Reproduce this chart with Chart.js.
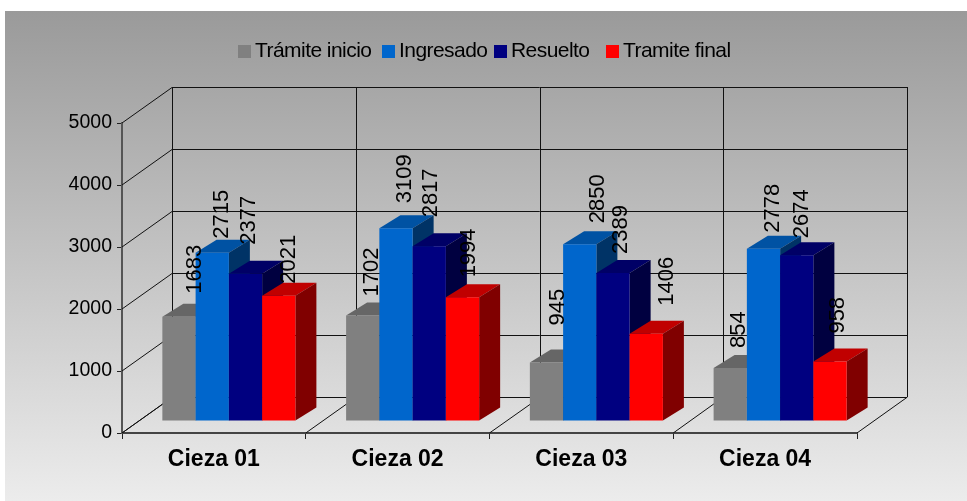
<!DOCTYPE html>
<html>
<head>
<meta charset="utf-8">
<style>
  html, body { margin: 0; padding: 0; background: #fff; }
  canvas { display: block; }
</style>
<script src="https://cdn.jsdelivr.net/npm/chart.js@4/dist/chart.umd.min.js"></script>
</head>
<body>
<div style="width:967px;height:501px"><canvas id="chart"></canvas></div>
<script>
const categories = ['Cieza 01', 'Cieza 02', 'Cieza 03', 'Cieza 04'];
const tramiteInicio = [1683, 1702, 945, 854];
const ingresado = [2715, 3109, 2850, 2778];
const resuelto = [2377, 2817, 2389, 2674];
const tramiteFinal = [2021, 1994, 1406, 958];
const yTicks = [0, 1000, 2000, 3000, 4000, 5000];

// offset of the back wall and of the bars from the front plane
const WALL_DX = 50, WALL_DY = -36;
const BAR_DX = 15, BAR_DY = -12;
const SIDE_DX = 21, SIDE_DY = -13;
// nudge of the value labels, series by category, Excel places them unevenly
const LABEL_DX = [[16, 9, 11, 9], [10, 9, 18, 9], [3, 2, 8, 5], [10, 6, 21, 8]];
const LABEL_GAP = [[23, 19, 37, 20], [14, 25, 21, 16], [29, 29, 19, 17], [12, 20, 28, 28]];
const LEGEND_X = [238, 382, 494, 606];

function makeSeries(label, data, color, top, side) {
  return { label, data, backgroundColor: color, topColor: top, sideColor: side };
}

function poly(ctx, pts, fill) {
  ctx.beginPath();
  pts.forEach((p, i) => i ? ctx.lineTo(p[0], p[1]) : ctx.moveTo(p[0], p[1]));
  ctx.closePath();
  ctx.fillStyle = fill;
  ctx.fill();
}

function line(ctx, x1, y1, x2, y2) {
  ctx.beginPath();
  ctx.moveTo(x1, y1);
  ctx.lineTo(x2, y2);
  ctx.stroke();
}

// background, walls, floor and the 3D faces of the bars
const walls = {
  id: 'walls',
  beforeDraw(chart) {
    const ctx = chart.ctx;
    const g = ctx.createLinearGradient(0, 11, 0, 501);
    g.addColorStop(0, '#9a9a9a');
    g.addColorStop(1, '#ececec');
    ctx.fillStyle = g;
    ctx.fillRect(5, 11, 962, 490);
  },
  beforeDatasetsDraw(chart) {
    const ctx = chart.ctx, x = chart.scales.x, y = chart.scales.y;
    const left = x.left, right = x.right, y0 = y.getPixelForValue(0), yTop = y.getPixelForValue(5000);
    ctx.save();
    ctx.strokeStyle = '#111';
    ctx.lineWidth = 1;
    yTicks.forEach(v => {
      const py = y.getPixelForValue(v);
      const backY = Math.round(py + WALL_DY) + 0.5;
      line(ctx, left, py, left + WALL_DX, backY);
      line(ctx, left + WALL_DX, backY, right + WALL_DX, backY);
    });
    const step = (right - left) / categories.length;
    for (let i = 0; i <= categories.length; i++) {
      const px = left + step * i;
      const backX = Math.round(px + WALL_DX) + 0.5;
      line(ctx, px, y0, backX, y0 + WALL_DY);
      line(ctx, backX, y0 + WALL_DY, backX, yTop + WALL_DY);
    }
    ctx.restore();

    // left series first, so each bar covers the side of the one before it
    ctx.save();
    ctx.translate(BAR_DX, BAR_DY);
    chart.data.datasets.forEach((ds, s) => {
      const meta = chart.getDatasetMeta(s);
      meta.data.forEach(bar => {
        const l = bar.x - bar.width / 2, r = bar.x + bar.width / 2;
        poly(ctx, [[l, bar.y], [r, bar.y], [r + SIDE_DX, bar.y + SIDE_DY], [l + SIDE_DX, bar.y + SIDE_DY]], ds.topColor);
        poly(ctx, [[r, bar.y], [r + SIDE_DX, bar.y + SIDE_DY], [r + SIDE_DX, bar.base + SIDE_DY], [r, bar.base]], ds.sideColor);
      });
      meta.controller.draw();
    });
    ctx.restore();
  },
  // the bars are already drawn above
  beforeDatasetDraw() {
    return false;
  },
  afterDraw(chart) {
    const ctx = chart.ctx;
    ctx.save();
    ctx.fillStyle = '#000';
    ctx.font = '22px "Liberation Sans"';
    ctx.textAlign = 'left';
    ctx.textBaseline = 'middle';
    chart.data.datasets.forEach((ds, s) => {
      chart.getDatasetMeta(s).data.forEach((bar, i) => {
        ctx.save();
        ctx.translate(bar.x + BAR_DX + LABEL_DX[s][i], bar.y + BAR_DY - LABEL_GAP[s][i]);
        ctx.rotate(-Math.PI / 2);
        ctx.fillText(String(ds.data[i]), 0, 0);
        ctx.restore();
      });
    });
    // legend
    ctx.font = '21px "Liberation Sans"';
    ctx.letterSpacing = '-0.55px';
    chart.data.datasets.forEach((ds, s) => {
      ctx.fillStyle = ds.backgroundColor;
      ctx.fillRect(LEGEND_X[s], 45, 13, 13);
      ctx.fillStyle = '#000';
      ctx.fillText(ds.label, LEGEND_X[s] + 17, 51);
    });
    ctx.restore();
  }
};

new Chart(document.getElementById('chart'), {
  type: 'bar',
  data: {
    labels: categories,
    datasets: [
      makeSeries('Trámite inicio', tramiteInicio, '#808080', '#666666', '#404040'),
      makeSeries('Ingresado', ingresado, '#0066cc', '#0052a3', '#003366'),
      makeSeries('Resuelto', resuelto, '#000080', '#000066', '#000040'),
      makeSeries('Tramite final', tramiteFinal, '#ff0000', '#c00000', '#800000')
    ]
  },
  options: {
    responsive: true,
    maintainAspectRatio: false,
    animation: false,
    layout: { padding: { left: 68, right: 110, top: 123, bottom: 22 } },
    datasets: { bar: { categoryPercentage: 0.724, barPercentage: 1 } },
    plugins: { legend: { display: false }, tooltip: { enabled: false } },
    scales: {
      x: {
        afterFit(axis) { axis.height = 46; },
        grid: { drawOnChartArea: false, tickLength: 6, color: '#222' },
        border: { color: '#444', width: 2 },
        ticks: { color: '#000', font: { family: 'Liberation Sans', size: 23, weight: 'bold' }, padding: 7, maxRotation: 0 }
      },
      y: {
        min: 0,
        max: 5000,
        afterFit(axis) { axis.width = 54; },
        afterBuildTicks(axis) { axis.ticks = yTicks.map(v => ({ value: v })); },
        grid: { drawOnChartArea: false, tickLength: 5, color: '#222' },
        border: { color: '#555', width: 2 },
        ticks: { color: '#000', font: { family: 'Liberation Sans', size: 19.5 }, padding: 5, callback: v => String(v) }
      }
    }
  },
  plugins: [walls]
});
</script>
</body>
</html>
